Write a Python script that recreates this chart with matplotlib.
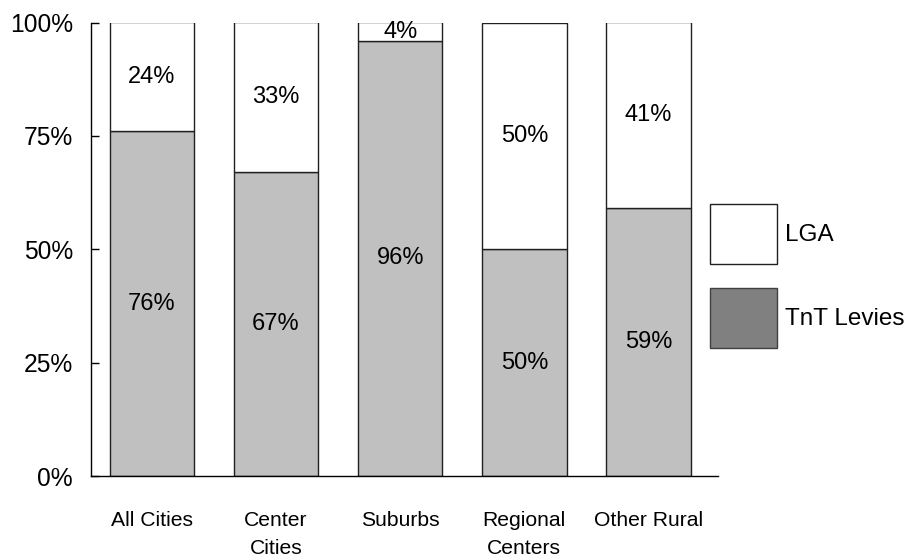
import matplotlib
matplotlib.use("Agg")
import matplotlib.pyplot as plt
from matplotlib.patches import Patch
from matplotlib.ticker import FixedLocator

plt.rcParams['font.family'] = ['Liberation Sans', 'DejaVu Sans']

categories = ["All Cities", "Center\nCities", "Suburbs", "Regional\nCenters", "Other Rural"]
tnt_levies = [76, 67, 96, 50, 59]
lga = [24, 33, 4, 50, 41]
y_ticks = [0, 25, 50, 75, 100]
y_tick_labels = ["0%", "25%", "50%", "75%", "100%"]

fig = plt.figure(figsize=(9.18, 5.58), dpi=100)
ax = fig.add_axes([91 / 918, 1 - 476 / 558, (718 - 91) / 918, (476 - 22.5) / 558])

x = list(range(len(categories)))
width = 0.68
ax.bar(x, tnt_levies, width, color="#c0c0c0", edgecolor="#202020", linewidth=1.0)
ax.bar(x, lga, width, bottom=tnt_levies, color="white", edgecolor="#202020", linewidth=1.0)

for xi, t, l in zip(x, tnt_levies, lga):
    ax.text(xi, t / 2, f"{t}%", ha="center", va="center", fontsize=17)
    ax.text(xi, t + l / 2, f"{l}%", ha="center", va="center", fontsize=17)

ax.set_xlim(-0.49, 4.56)
ax.set_ylim(0, 100)
ax.yaxis.set_major_locator(FixedLocator(y_ticks))
ax.set_yticklabels(y_tick_labels, fontsize=17.7)
ax.set_xticks(x)
ax.set_xticklabels(categories, fontsize=15.2, linespacing=1.6)
ax.tick_params(axis="y", direction="in", length=6, width=1, pad=13)
ax.tick_params(axis="x", length=0, pad=25)
for side in ("top", "right"):
    ax.spines[side].set_visible(False)
for side in ("left", "bottom"):
    ax.spines[side].set_linewidth(1.0)

handles = [
    Patch(facecolor="white", edgecolor="#202020", linewidth=1.0, label="LGA"),
    Patch(facecolor="#808080", edgecolor="#404040", linewidth=1.0, label="TnT Levies"),
]
fig.legend(handles=handles, loc="upper left", bbox_to_anchor=(710 / 918, 1 - 204 / 558),
           frameon=False, fontsize=17.5, handlelength=2.75, handleheight=3.42,
           labelspacing=0.99, handletextpad=0.33, borderpad=0, borderaxespad=0)

fig.savefig("out.png", dpi=100)
